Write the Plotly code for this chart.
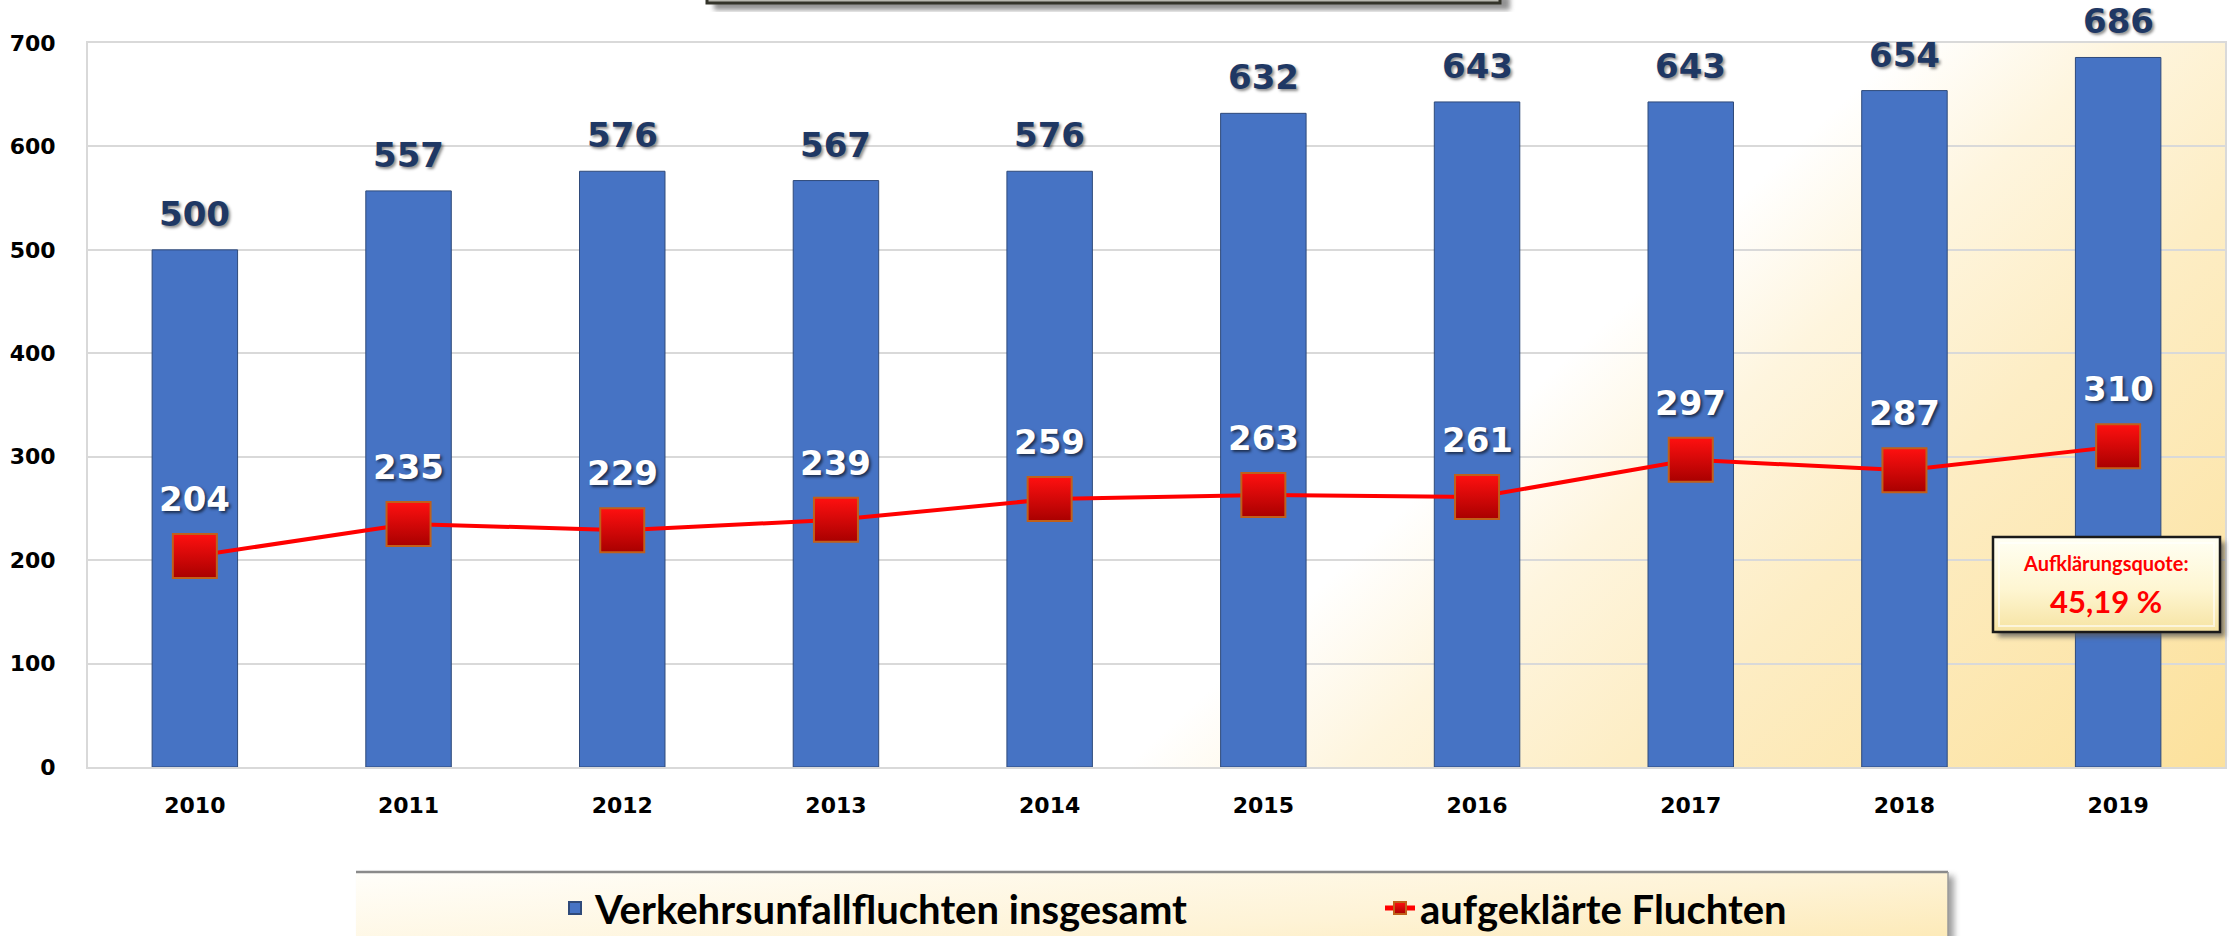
import base64
import plotly.graph_objects as go

# ---------------- data ----------------
years = ["2010", "2011", "2012", "2013", "2014", "2015", "2016", "2017", "2018", "2019"]
total_flights = [500, 557, 576, 567, 576, 632, 643, 643, 654, 686]
solved_flights = [204, 235, 229, 239, 259, 263, 261, 297, 287, 310]
y_ticks = [0, 100, 200, 300, 400, 500, 600, 700]
bar_name = "Verkehrsunfallfluchten insgesamt"
line_name = "aufgeklärte Fluchten"
quote_label = "Aufklärungsquote:"
quote_value = "45,19 %"

# ---------------- geometry helpers (page pixels) ----------------
W, H = 2229, 936
ML, MR, MT, MB = 88, 4, 43, 169
PW = W - ML - MR
PH = H - MT - MB


def px_x(x):
    return (x - ML) / PW


def px_y(y):
    return (H - MB - y) / PH


def svg_uri(svg):
    return "data:image/svg+xml;base64," + base64.b64encode(svg.encode("utf-8")).decode("ascii")


# plot-area background gradient (white -> warm yellow toward bottom-right)
bg_svg = f"""<svg xmlns='http://www.w3.org/2000/svg' width='{PW}' height='{PH}' viewBox='0 0 {PW} {PH}' preserveAspectRatio='none'>
<defs><linearGradient id='g' gradientUnits='userSpaceOnUse' x1='840' y1='907' x2='1349' y2='1456'>
<stop offset='0' stop-color='#FFFFFF'/>
<stop offset='0.2' stop-color='#FEF5DE'/>
<stop offset='0.45' stop-color='#FDEDC4'/>
<stop offset='1' stop-color='#FCE19C'/>
</linearGradient></defs>
<rect x='0' y='0' width='{PW}' height='{PH}' fill='url(#g)'/>
</svg>"""

# legend box (gradient, grey top border, shadow)
leg_x0, leg_y0, leg_w, leg_h = 350, 866, 1615, 100
leg_svg = f"""<svg xmlns='http://www.w3.org/2000/svg' width='{leg_w}' height='{leg_h}' viewBox='0 0 {leg_w} {leg_h}' preserveAspectRatio='none'>
<defs>
<linearGradient id='lg' x1='0' y1='0' x2='1' y2='1'>
<stop offset='0' stop-color='#FFFEFA'/>
<stop offset='0.5' stop-color='#FEF3D6'/>
<stop offset='1' stop-color='#FCE3A0'/>
</linearGradient>
<filter id='b' x='-5%' y='-50%' width='110%' height='200%'><feGaussianBlur stdDeviation='3'/></filter>
</defs>
<rect x='12' y='10' width='1592' height='120' fill='#777' opacity='0.7' filter='url(#b)'/>
<rect x='6' y='6' width='1592' height='120' fill='url(#lg)'/>
<line x1='6' y1='6' x2='1598' y2='6' stroke='#8A8A8A' stroke-width='2.5'/>
<line x1='1598' y1='6' x2='1598' y2='100' stroke='#9A9A9A' stroke-width='1.5'/>
</svg>"""

# quote box
q_x0, q_y0, q_w, q_h = 1988, 532, 241, 113
q_svg = f"""<svg xmlns='http://www.w3.org/2000/svg' width='{q_w}' height='{q_h}' viewBox='0 0 {q_w} {q_h}' preserveAspectRatio='none'>
<defs>
<linearGradient id='qg' x1='0' y1='0' x2='0' y2='1'>
<stop offset='0' stop-color='#FFFFF4'/>
<stop offset='0.55' stop-color='#FEF6D2'/>
<stop offset='1' stop-color='#F6E3A2'/>
</linearGradient>
<filter id='qb'><feGaussianBlur stdDeviation='2.5'/></filter>
</defs>
<rect x='10' y='10' width='227' height='95' fill='#555' opacity='0.75' filter='url(#qb)'/>
<rect x='5' y='5' width='227' height='95' fill='url(#qg)' stroke='#1A1A1A' stroke-width='2.5'/>
<rect x='11' y='11' width='215' height='83' fill='none' stroke='#FFFFFF' stroke-opacity='0.6' stroke-width='2'/>
</svg>"""

# title box remnant at the very top (only its lower edge is visible)
t_x0, t_y0, t_w, t_h = 700, 0, 820, 20
t_svg = f"""<svg xmlns='http://www.w3.org/2000/svg' width='{t_w}' height='{t_h}' viewBox='0 0 {t_w} {t_h}' preserveAspectRatio='none'>
<defs><filter id='tb'><feGaussianBlur stdDeviation='2.4'/></filter></defs>
<rect x='14' y='-4' width='796' height='14' fill='#777' opacity='0.8' filter='url(#tb)'/>
<rect x='7' y='-10' width='793' height='13' fill='#B8B8B0' stroke='#34342A' stroke-width='3'/>
</svg>"""

fig = go.Figure()

fig.add_trace(go.Bar(
    x=years, y=total_flights, name=bar_name,
    width=0.40,
    marker=dict(color="#4673C4", line=dict(color="#2F4A7A", width=1)),
    hoverinfo="x+y",
))

fig.add_trace(go.Scatter(
    x=years, y=solved_flights, name=line_name,
    mode="lines+markers",
    line=dict(color="#FF0000", width=4),
    marker=dict(symbol="square", size=44, color="#FF1010",
                gradient=dict(type="vertical", color="#A80000"),
                line=dict(color="#C0601A", width=2)),
))

annotations = []
for i, v in enumerate(total_flights):
    annotations.append(dict(
        x=i, y=v, xref="x", yref="y", text=str(v), showarrow=False,
        yanchor="middle", yshift=36,
        font=dict(family="DejaVu Sans", size=34, color="#1F3864", weight="bold",
                  shadow="2px 2px 3px rgba(0,0,0,0.45)"),
    ))
for i, v in enumerate(solved_flights):
    annotations.append(dict(
        x=i, y=v, xref="x", yref="y", text=str(v), showarrow=False,
        yanchor="middle", yshift=57,
        font=dict(family="DejaVu Sans", size=34, color="#FFFFFF", weight="bold",
                  shadow="2px 2px 3px rgba(0,0,0,0.6)"),
    ))
annotations.append(dict(
    x=px_x(2106), y=px_y(563), xref="paper", yref="paper", text=quote_label,
    showarrow=False, xanchor="center", yanchor="middle",
    font=dict(family="Lato", size=20, color="#FF0000", weight="bold"),
))
annotations.append(dict(
    x=px_x(2106), y=px_y(601), xref="paper", yref="paper", text=quote_value,
    showarrow=False, xanchor="center", yanchor="middle",
    font=dict(family="Lato", size=31, color="#FF0000", weight="bold"),
))

images = [
    dict(source=svg_uri(bg_svg), xref="paper", yref="paper", x=0, y=1,
         sizex=1, sizey=1, sizing="stretch", xanchor="left", yanchor="top", layer="below"),
    dict(source=svg_uri(leg_svg), xref="paper", yref="paper", x=px_x(leg_x0), y=px_y(leg_y0),
         sizex=leg_w / PW, sizey=leg_h / PH, sizing="stretch", xanchor="left", yanchor="top", layer="above"),
    dict(source=svg_uri(q_svg), xref="paper", yref="paper", x=px_x(q_x0), y=px_y(q_y0),
         sizex=q_w / PW, sizey=q_h / PH, sizing="stretch", xanchor="left", yanchor="top", layer="above"),
    dict(source=svg_uri(t_svg), xref="paper", yref="paper", x=px_x(t_x0), y=px_y(t_y0),
         sizex=t_w / PW, sizey=t_h / PH, sizing="stretch", xanchor="left", yanchor="top", layer="above"),
]

fig.update_layout(
    width=W, height=H,
    margin=dict(l=ML, r=MR, t=MT, b=MB, autoexpand=False),
    paper_bgcolor="#FFFFFF",
    plot_bgcolor="rgba(0,0,0,0)",
    showlegend=True,
    legend=dict(
        orientation="h", x=px_x(555), y=px_y(908), xanchor="left", yanchor="middle",
        bgcolor="rgba(0,0,0,0)", borderwidth=0,
        font=dict(family="Lato", size=40, color="#000000", weight="bold"),
        entrywidth=780, entrywidthmode="pixels", itemsizing="constant",
        traceorder="normal",
    ),
    xaxis=dict(
        type="category", range=[-0.5, 9.5],
        showgrid=False, showline=True, linecolor="#D9D9D9", linewidth=2, mirror=True,
        ticks="outside", ticklen=18, tickcolor="rgba(0,0,0,0)",
        tickfont=dict(family="DejaVu Sans", size=22, color="#000000", weight="bold"),
        fixedrange=True, automargin=False,
    ),
    yaxis=dict(
        range=[0, 700], tickvals=y_ticks,
        showgrid=True, gridcolor="#D9D9D9", gridwidth=1.5,
        showline=True, linecolor="#D9D9D9", linewidth=2, mirror=True,
        zeroline=False,
        ticks="outside", ticklen=26, tickcolor="rgba(0,0,0,0)",
        tickfont=dict(family="DejaVu Sans", size=22, color="#000000", weight="bold"),
        fixedrange=True, automargin=False,
    ),
    annotations=annotations,
    images=images,
    bargap=0.6,
    hovermode=False,
)

# remove the browser's default 8px body margin so the figure fills the window exactly
fig.write_html(
    "out.html",
    config={"displayModeBar": False},
    post_script="document.body.style.margin='0';document.body.style.overflow='hidden';",
)
